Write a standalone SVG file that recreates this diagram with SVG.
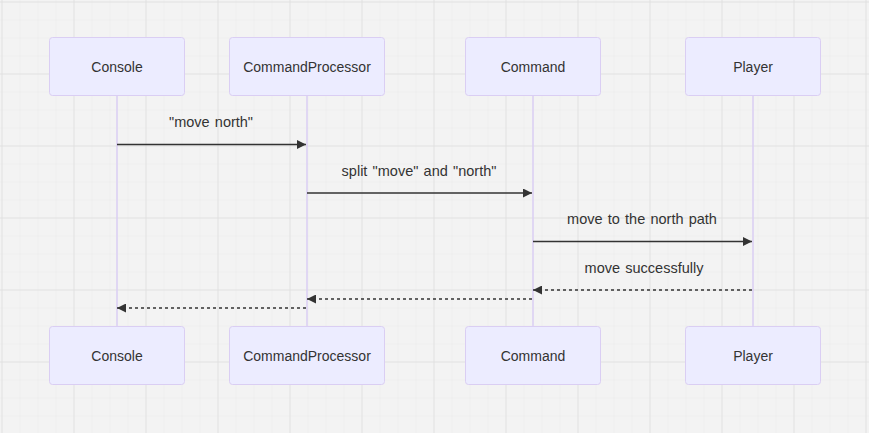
<svg xmlns="http://www.w3.org/2000/svg" width="869" height="433" viewBox="0 0 869 433">
<defs>
<style>
.actor rect{fill:#ECECFF;stroke:#DACEF3;stroke-width:1}
.actor text{font-family:"Liberation Sans",Arial,sans-serif;font-size:14px;fill:#333;text-anchor:middle;dominant-baseline:central}
.life{stroke:#DACEF3;stroke-width:1.5}
.msg{stroke:#333;stroke-width:1.5;fill:none}
.dash{stroke-dasharray:3,3}
.lbl{font-family:"Liberation Sans",Arial,sans-serif;font-size:14.5px;fill:#333;text-anchor:middle;word-spacing:1.2px}
</style>
<pattern id="minor" width="18" height="18" patternUnits="userSpaceOnUse" x="1.5" y="1.5">
<path d="M0 0H18M0 0V18" stroke="#e9e9e9" stroke-width="1" fill="none"/>
</pattern>
<pattern id="major" width="72" height="72" patternUnits="userSpaceOnUse" x="1.5" y="1.5">
<path d="M0 0H72M0 0V72" stroke="#e2e2e2" stroke-width="2" fill="none"/>
</pattern>
<marker id="arrow" viewBox="0 0 10 10" refX="10" refY="5" markerWidth="10" markerHeight="9" markerUnits="userSpaceOnUse" orient="auto">
<path d="M0 0L10 5L0 10z" fill="#333"/>
</marker>
</defs>
<rect width="869" height="433" fill="#f3f3f3"/>
<rect width="869" height="433" fill="url(#minor)"/>
<rect width="869" height="433" fill="url(#major)"/>
<g id="lifelines">
<line class="life" x1="117" y1="95.5" x2="117" y2="326.5"/>
<line class="life" x1="307" y1="95.5" x2="307" y2="326.5"/>
<line class="life" x1="533" y1="95.5" x2="533" y2="326.5"/>
<line class="life" x1="753" y1="95.5" x2="753" y2="326.5"/>
</g>
<g id="Console" class="actor">
<rect x="49.5" y="37.5" width="135" height="58" rx="3"/>
<text x="117" y="67">Console</text>
</g>
<g id="CommandProcessor" class="actor">
<rect x="229.5" y="37.5" width="155" height="58" rx="3"/>
<text x="307" y="67">CommandProcessor</text>
</g>
<g id="Command" class="actor">
<rect x="465.5" y="37.5" width="135" height="58" rx="3"/>
<text x="533" y="67">Command</text>
</g>
<g id="Player" class="actor">
<rect x="685.5" y="37.5" width="135" height="58" rx="3"/>
<text x="753" y="67">Player</text>
</g>
<g id="Console_bottom" class="actor">
<rect x="49.5" y="326.5" width="135" height="58" rx="3"/>
<text x="117" y="356">Console</text>
</g>
<g id="CommandProcessor_bottom" class="actor">
<rect x="229.5" y="326.5" width="155" height="58" rx="3"/>
<text x="307" y="356">CommandProcessor</text>
</g>
<g id="Command_bottom" class="actor">
<rect x="465.5" y="326.5" width="135" height="58" rx="3"/>
<text x="533" y="356">Command</text>
</g>
<g id="Player_bottom" class="actor">
<rect x="685.5" y="326.5" width="135" height="58" rx="3"/>
<text x="753" y="356">Player</text>
</g>
<g id="connectors">
<text class="lbl" x="211" y="127">"move north"</text>
<line class="msg" x1="117" y1="144.5" x2="306" y2="144.5" marker-end="url(#arrow)"/>
<text class="lbl" x="419" y="176">split "move" and "north"</text>
<line class="msg" x1="307" y1="193" x2="532" y2="193" marker-end="url(#arrow)"/>
<text class="lbl" x="642" y="224">move to the north path</text>
<line class="msg" x1="533" y1="241.5" x2="752" y2="241.5" marker-end="url(#arrow)"/>
<text class="lbl" x="644" y="273">move successfully</text>
<line class="msg dash" x1="752" y1="290" x2="533" y2="290" marker-end="url(#arrow)"/>
<line class="msg dash" x1="532" y1="299" x2="307" y2="299" marker-end="url(#arrow)"/>
<line class="msg dash" x1="306" y1="308" x2="117" y2="308" marker-end="url(#arrow)"/>
</g>
</svg>
